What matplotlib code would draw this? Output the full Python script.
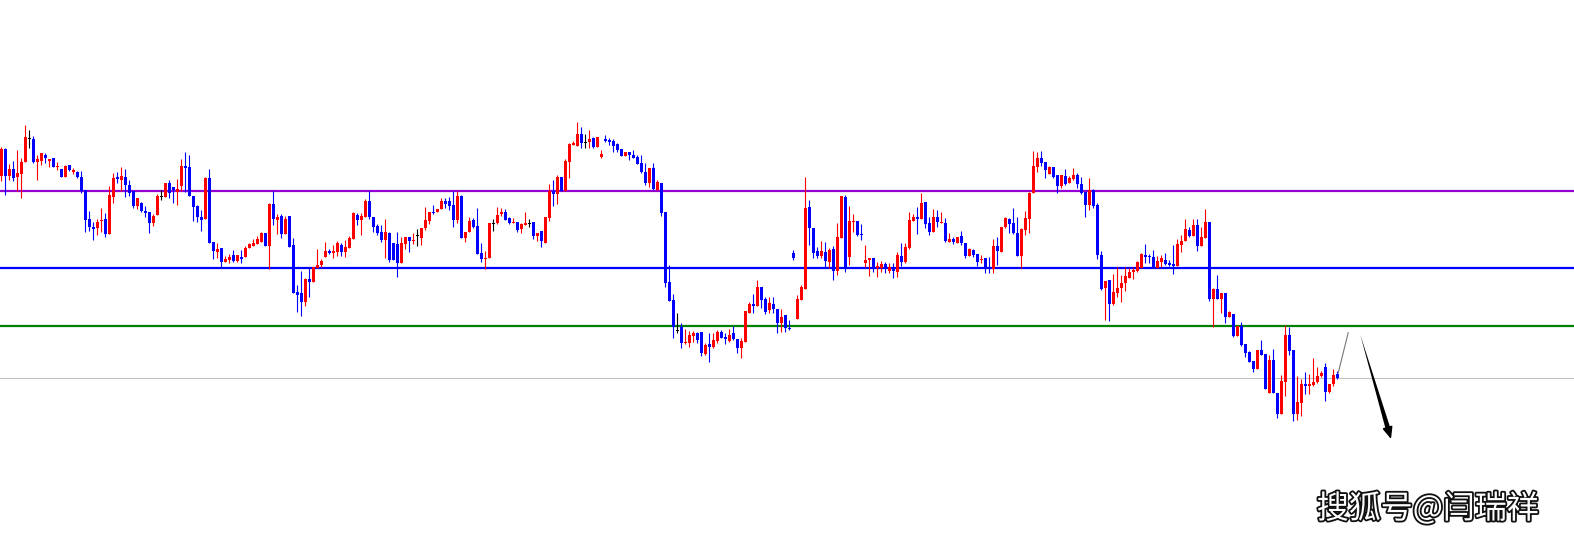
import matplotlib
matplotlib.use("Agg")
import matplotlib.pyplot as plt
import matplotlib.patheffects as pe
import numpy as np

# ---- data (price points) ----
opens = [
368,395,368,375,367,370,382,406,405,382,
383,389,383,386,377,375,367,379,372,372,
367,354,325,317,316,323,325,310,347,367,
364,367,359,353,338,341,333,332,321,329,
348,347,361,357,352,358,378,377,348,338,
327,325,366,302,292,296,282,284,289,283,
287,287,296,298,300,302,311,298,340,324,
328,310,328,299,252,251,242,265,262,276,
279,287,293,291,292,299,292,296,305,329,
324,327,343,327,318,312,304,311,301,300,
281,300,307,303,309,306,316,323,332,332,
335,343,343,339,324,348,306,312,324,318,
291,285,286,321,321,330,332,326,321,322,
315,319,321,322,308,313,301,326,353,350,
367,353,382,399,398,410,402,402,406,397,
387,405,404,403,400,395,388,392,389,387,
381,372,361,376,354,361,332,262,244,214,
217,201,201,208,211,212,190,200,197,203,
212,207,203,211,205,196,202,231,240,238,
257,245,234,240,235,221,229,216,291,225,
244,255,337,316,293,288,292,282,295,273,
306,347,287,322,323,310,281,284,286,276,
276,280,273,277,272,288,282,296,323,327,
325,342,321,312,327,321,321,302,305,301,
308,301,288,294,290,284,286,276,275,298,
292,317,325,321,311,288,314,325,351,377,
386,382,370,377,369,358,368,361,365,369,
360,352,339,354,339,289,256,264,240,251,
256,261,266,272,273,276,289,288,287,276,
282,284,281,280,278,299,303,314,308,319,
298,306,322,245,255,245,251,227,230,208,
218,200,192,183,175,194,190,151,184,151,
130,162,209,194,130,141,160,158,159,162,
168,177,152,160,170]

highs = [
397,396,380,383,394,386,419,414,408,389,
391,391,385,386,382,375,379,379,376,373,
373,354,333,322,325,336,331,358,371,372,
377,375,364,353,346,342,338,332,330,350,
354,361,364,357,365,385,392,389,348,339,
334,367,375,302,301,296,288,290,294,289,
294,298,301,305,308,312,311,341,353,330,
330,328,328,306,259,273,266,276,277,295,
285,302,295,299,303,301,304,308,332,331,
331,345,353,327,320,319,325,312,301,312,
307,307,307,311,315,316,337,332,339,335,
346,346,347,353,353,349,312,327,326,336,
301,293,321,325,337,336,335,327,326,322,
321,332,325,322,311,313,327,360,364,369,
367,385,401,403,422,417,410,414,407,407,
394,409,406,405,401,395,392,392,394,389,
389,381,376,381,364,361,332,279,250,231,
221,215,213,213,212,212,201,211,211,214,
214,211,215,218,205,206,233,242,250,264,
257,247,247,247,235,235,229,224,294,249,
259,367,344,316,297,303,302,296,298,321,
348,349,338,330,323,320,299,286,286,282,
283,282,281,281,292,301,301,332,330,337,
351,342,327,335,334,332,326,311,307,307,
313,301,296,295,290,289,286,287,305,307,
317,327,326,336,327,316,333,352,393,392,
393,382,378,377,369,369,375,368,376,371,
367,352,366,355,341,293,263,264,270,277,
269,277,276,277,283,291,300,290,294,288,
289,291,284,299,305,309,325,317,325,325,
317,335,322,256,269,251,251,233,230,218,
222,200,193,183,194,204,190,189,195,151,
169,219,217,194,168,165,172,170,186,177,
173,181,160,175,173]

lows = [
363,349,364,363,353,346,382,396,381,364,
379,381,377,377,374,367,367,373,370,366,
351,312,313,304,309,312,307,310,341,361,
353,347,348,336,335,332,327,311,318,329,
344,347,346,341,339,353,352,348,323,322,
313,325,301,285,286,277,282,281,282,282,
281,287,296,298,300,302,298,275,319,310,
306,310,297,251,232,228,238,247,262,276,
277,287,290,286,288,288,287,296,305,319,
309,327,325,312,309,302,286,282,284,267,
281,295,292,300,298,299,314,320,330,332,
335,336,334,317,321,306,302,312,316,290,
282,275,286,313,320,328,324,320,321,312,
311,319,317,305,303,297,301,323,338,340,
353,353,366,399,398,396,396,396,396,397,
386,402,399,392,392,388,388,384,386,380,
371,359,357,354,354,328,257,243,206,211,
196,200,197,202,201,188,189,182,196,201,
206,200,202,204,191,186,202,231,231,238,
236,230,231,231,211,212,212,214,284,225,
244,255,299,286,286,286,277,276,264,269,
306,272,279,312,308,304,277,268,272,267,
272,271,271,266,267,278,281,295,323,310,
325,316,309,312,317,321,302,302,300,301,
299,286,288,287,278,281,271,271,271,279,
292,316,311,310,288,276,309,311,351,372,
378,366,370,366,351,356,359,361,364,356,
350,327,334,336,285,254,224,223,239,247,
242,253,266,265,272,276,281,281,276,276,
277,279,278,270,278,292,303,307,308,293,
298,306,243,217,245,231,221,227,207,208,
198,187,182,172,175,189,155,151,151,126,
130,148,189,123,124,128,150,150,158,161,
167,143,151,158,165]

closes = [
395,368,375,366,371,382,407,406,382,385,
391,386,385,377,378,367,378,374,374,367,
353,324,317,315,322,324,310,349,366,365,
368,359,351,338,346,333,331,321,328,348,
348,361,351,354,355,378,376,348,337,327,
324,366,301,293,295,282,285,287,283,289,
285,296,300,301,305,311,298,340,325,327,
310,325,297,251,249,242,265,262,277,279,
283,293,291,293,301,292,297,306,331,324,
328,343,327,317,311,304,312,284,284,281,
301,307,303,304,309,316,324,332,331,335,
343,340,338,324,348,306,312,323,317,290,
285,286,321,321,329,332,324,321,322,314,
320,321,321,308,311,303,327,353,350,367,
353,383,400,401,410,401,402,405,397,407,
390,403,402,398,394,388,392,389,386,380,
372,361,376,355,362,331,261,243,217,214,
201,202,209,211,204,191,199,197,204,212,
206,205,209,205,196,203,233,240,238,257,
244,232,241,235,221,227,216,215,286,245,
257,336,316,291,288,293,283,294,273,307,
348,277,323,323,309,309,284,286,276,278,
280,275,277,273,289,282,297,324,327,325,
341,320,312,327,322,322,303,305,302,307,
301,288,295,289,282,285,276,275,298,293,
317,326,320,311,288,315,326,351,378,386,
381,374,377,367,358,369,360,366,369,360,
351,339,354,338,289,255,263,240,252,256,
261,268,272,274,282,290,287,287,276,283,
286,280,279,278,300,303,315,308,319,298,
307,322,245,255,245,251,227,232,208,218,
199,191,182,175,194,189,155,184,151,130,
163,209,193,130,142,160,158,160,162,168,
171,152,160,169,166]

level_prices = [353.5, 276.5, 218.0, 166.5]
level_colors = ["#9400D3", "#0000FF", "#008000", "#C0C0C0"]
level_widths = [1.6, 1.6, 1.6, 0.8]

watermark = "搜狐号@闫瑞祥"

# ---- figure ----
W, H = 1574, 544
fig = plt.figure(figsize=(W / 100, H / 100), dpi=100)
ax = fig.add_axes([0, 0, 1, 1])
ax.set_xlim(-0.25, -0.25 + W / 4)
ax.set_ylim(0, H)
ax.axis("off")

for p, c, lw in zip(level_prices, level_colors, level_widths):
    ax.axhline(p, color=c, lw=lw, zorder=1)

o = np.array(opens, float)
h = np.array(highs, float)
l = np.array(lows, float)
c = np.array(closes, float)
x = np.arange(len(o))
cols = np.where(c > o, "#FF0000", np.where(c < o, "#0000FF", "#000000"))

ax.vlines(x, l, h, colors=cols, linewidth=0.8, zorder=2)
bottom = np.minimum(o, c)
height = np.maximum(np.abs(c - o), 1.0)
ax.bar(x, height, bottom=bottom - np.where(c == o, 0.5, 0), width=0.75,
       color=cols, linewidth=0, zorder=3)

# projection arrows
ax.plot([334.3, 336.8], [171.0, 211.3], color="#777777", lw=0.8, zorder=4)
ax.annotate("", xy=(339.6, 212.3), xytext=(347.0, 112.0),
            arrowprops=dict(arrowstyle="wedge,tail_width=0.35,shrink_factor=0.5",
                            color="black", lw=0), zorder=4)
ax.annotate("", xy=(347.5, 105.0), xytext=(346.6, 117.0),
            arrowprops=dict(arrowstyle="-|>,head_length=0.7,head_width=0.3",
                            color="black", lw=1.2, shrinkA=0, shrinkB=0), zorder=4)

ax.text(1427 / 4, H - 509, watermark, ha="center", va="center",
        fontsize=23, color="white",
        family=["Noto Sans CJK SC", "DejaVu Sans"], zorder=5,
        path_effects=[pe.withStroke(linewidth=2.6, foreground="#111111")])

fig.savefig("out.png", dpi=100, facecolor="white")
